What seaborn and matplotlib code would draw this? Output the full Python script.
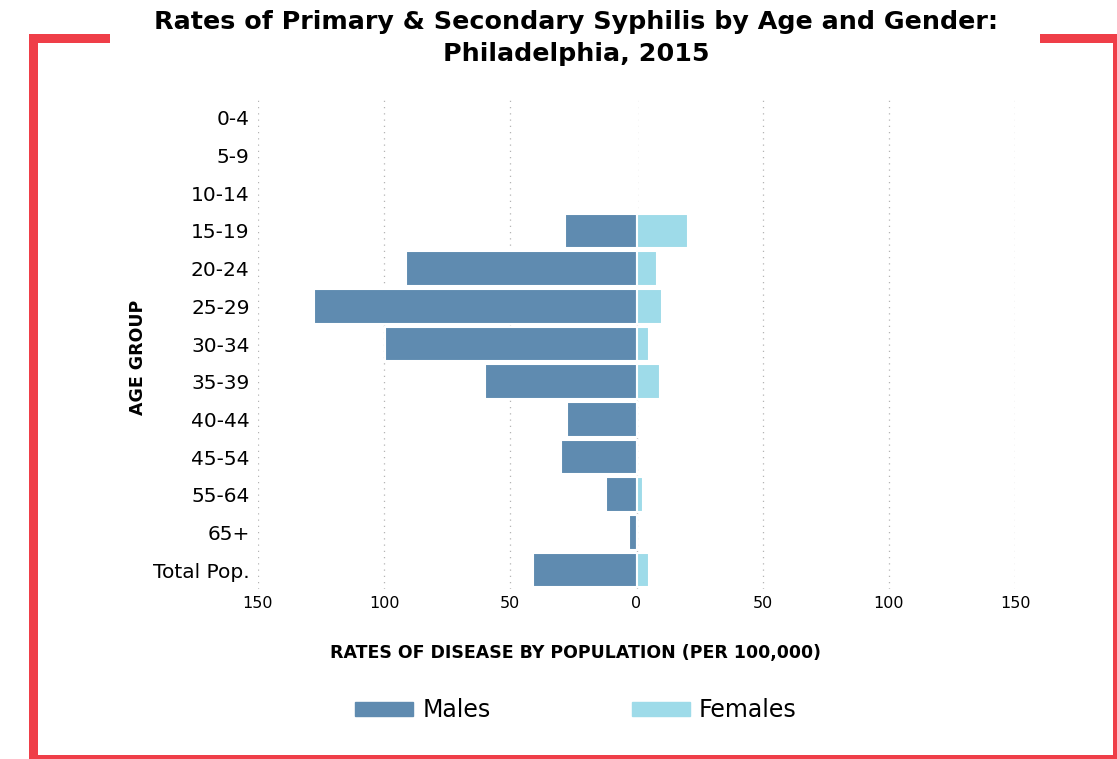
import matplotlib
matplotlib.use("Agg")
import matplotlib.pyplot as plt
from matplotlib.patches import Rectangle, Patch
import seaborn as sns
import pandas as pd

# ----------------------------
# DATA (rate per 100,000)
# ----------------------------
AGE_GROUPS = ["0-4", "5-9", "10-14", "15-19", "20-24", "25-29", "30-34",
              "35-39", "40-44", "45-54", "55-64", "65+", "Total Pop."]
MALES = [0.2, 0.2, 0.2, 28.5, 91.5, 128.0, 99.5, 60.0, 27.5, 30.0, 12.0, 3.0, 41.0]
FEMALES = [0.3, 0.3, 0.3, 20.5, 8.0, 10.0, 5.0, 9.5, 0.0, 0.0, 2.5, 0.0, 5.0]

TICKS = [-150, -100, -50, 0, 50, 100, 150]
TICK_LABELS = ["150", "100", "50", "0", "50", "100", "150"]

MALE_COLOR = "#5f8bb0"
FEMALE_COLOR = "#9edbe9"
RED = "#ef3e48"

df = pd.concat([
    pd.DataFrame({"age": AGE_GROUPS, "rate": [-v for v in MALES], "sex": "Males"}),
    pd.DataFrame({"age": AGE_GROUPS, "rate": FEMALES, "sex": "Females"}),
])

# ----------------------------
# PLOT
# ----------------------------
sns.set_style("white")
plt.rcParams["font.family"] = ["DejaVu Sans"]
plt.rcParams["text.color"] = "black"
plt.rcParams["xtick.color"] = "black"
plt.rcParams["ytick.color"] = "black"

W, H = 1117, 759
fig = plt.figure(figsize=(W / 100, H / 100), dpi=100)
ax = fig.add_axes([258 / W, 1 - 589 / H, (1015 - 258) / W, (589 - 99) / H])

sns.barplot(data=df, y="age", x="rate", hue="sex", order=AGE_GROUPS,
            hue_order=["Males", "Females"], dodge=False, orient="h",
            palette=[MALE_COLOR, FEMALE_COLOR], width=0.92, saturation=1,
            edgecolor="white", linewidth=1.5, ax=ax, legend=False)

ax.set_xlim(-150, 150)
ax.set_xticks(TICKS)
ax.set_xticklabels(TICK_LABELS, fontsize=11.5)
ax.tick_params(axis="y", labelsize=14.5, length=0, pad=6)
ax.tick_params(axis="x", length=0, pad=5)
ax.set_xlabel("")
ax.set_ylabel("")
for s in ax.spines.values():
    s.set_visible(False)
ax.xaxis.grid(True, linestyle=(0, (1, 4)), color="#b4b4b4", linewidth=0.9)
ax.set_axisbelow(True)

# titles / labels
fig.text(576 / W, 1 - 38 / H,
         "Rates of Primary & Secondary Syphilis by Age and Gender:\nPhiladelphia, 2015",
         ha="center", va="center", fontsize=18.3, fontweight="bold", linespacing=1.45)
fig.text(576 / W, 1 - 653 / H, "RATES OF DISEASE BY POPULATION (PER 100,000)",
         ha="center", va="center", fontsize=12.5, fontweight="bold")
fig.text(138 / W, 1 - 357 / H, "AGE GROUP", ha="center", va="center",
         rotation=90, fontsize=12.5, fontweight="bold")

# legend
handles = [Patch(color=MALE_COLOR, label="Males"), Patch(color=FEMALE_COLOR, label="Females")]
fig.legend(handles=handles, loc="center", bbox_to_anchor=(576 / W, 1 - 710 / H),
           ncol=2, frameon=False, fontsize=17, handlelength=2.45, handleheight=0.55,
           handletextpad=0.38, columnspacing=6.0)

# red frame
def frame_rect(x0, y0, x1, y1):
    fig.add_artist(Rectangle((x0 / W, 1 - y1 / H), (x1 - x0) / W, (y1 - y0) / H,
                             transform=fig.transFigure, color=RED, lw=0))

frame_rect(29, 34, 110, 43)
frame_rect(1040, 34, 1117, 43)
frame_rect(29, 34, 38, 759)
frame_rect(1113, 34, 1117, 759)
frame_rect(29, 755, 1117, 759)

fig.savefig("out.png", dpi=100)
